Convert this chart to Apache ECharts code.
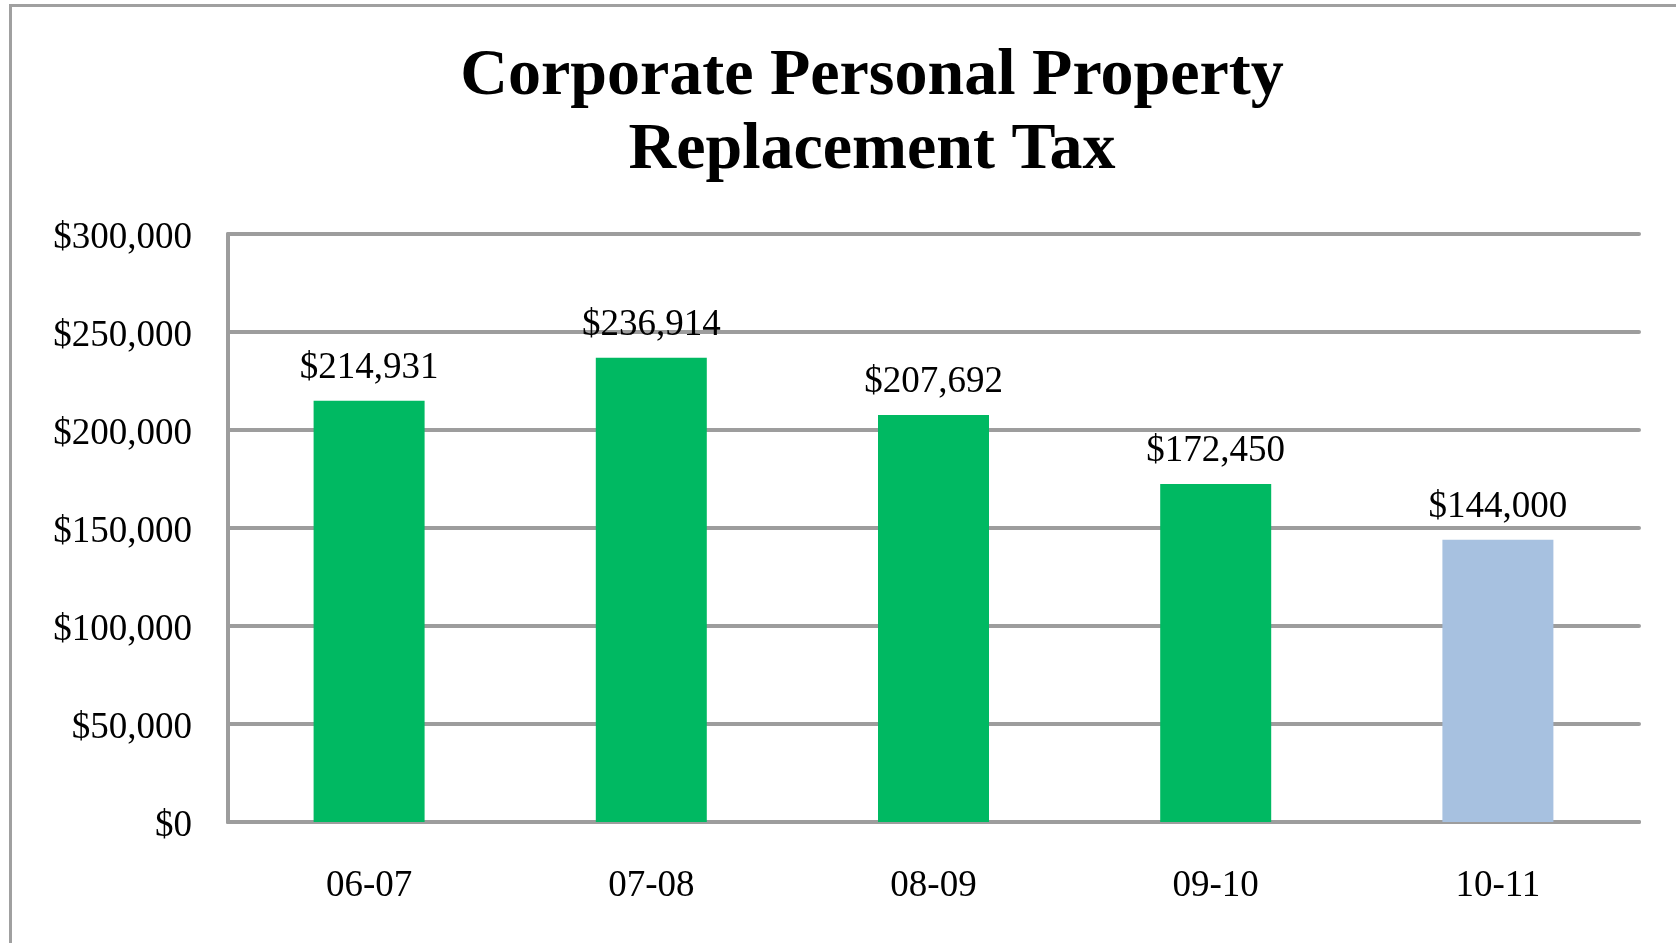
<!DOCTYPE html>
<html>
<head>
<meta charset="utf-8">
<script src="https://cdn.jsdelivr.net/npm/echarts@6/dist/echarts.min.js"></script>
<style>
  html, body { margin: 0; padding: 0; background: #fff; }
  #main { width: 1676px; height: 943px; }
</style>
</head>
<body>
<div id="main"></div>
<script>
// 财年
var years = ['06-07', '07-08', '08-09', '09-10', '10-11']
// 税额
var taxValues = [214931, 236914, 207692, 172450, 144000]
// 最后一年为预算值（浅蓝色）
var isEstimate = [false, false, false, false, true]

var greyLine = '#9D9D9D'
var font = 'Liberation Serif'

function money(v) {
    return '$' + Number(v).toLocaleString('en-US')
}

var myChart = echarts.init(document.getElementById('main'))

var option = {
    backgroundColor: '#fff',
    animation: false,
    title: {
        text: 'Corporate Personal Property\nReplacement Tax',
        left: 867,
        top: 35,
        textAlign: 'center',
        textStyle: {
            fontFamily: font,
            fontWeight: 'bold',
            fontSize: 66,
            lineHeight: 74,
            color: '#000'
        }
    },
    // 外框
    graphic: [{
        type: 'rect',
        shape: { x: 10.5, y: 5.5, width: 1700, height: 960 },
        style: { fill: 'none', stroke: '#A0A0A0', lineWidth: 3 },
        silent: true
    }],
    grid: {
        left: 228,
        right: 37,
        top: 234,
        bottom: 121
    },
    xAxis: {
        type: 'category',
        data: years,
        axisLine: { show: true, lineStyle: { color: greyLine, width: 4, cap: 'round' } },
        axisTick: { show: false },
        axisLabel: {
            margin: 46,
            fontFamily: font,
            fontSize: 37,
            color: '#000'
        }
    },
    yAxis: {
        type: 'value',
        min: 0,
        max: 300000,
        interval: 50000,
        axisLine: { show: true, lineStyle: { color: greyLine, width: 4, cap: 'round' } },
        axisTick: { show: false },
        splitLine: { lineStyle: { color: greyLine, width: 4, cap: 'round' } },
        axisLabel: {
            margin: 36,
            verticalAlign: 'top',
            padding: [-14, 0, 0, 0],
            fontFamily: font,
            fontSize: 37,
            color: '#000',
            formatter: money
        }
    },
    series: [{
        type: 'bar',
        data: taxValues,
        barWidth: 111,
        itemStyle: {
            color: function (p) {
                return isEstimate[p.dataIndex] ? '#A7C1E0' : '#00B962'
            }
        },
        label: {
            show: true,
            position: 'top',
            distance: 14,
            fontFamily: font,
            fontSize: 37,
            color: '#000',
            formatter: function (p) { return money(p.value) }
        }
    }]
}

myChart.setOption(option)
</script>
</body>
</html>
